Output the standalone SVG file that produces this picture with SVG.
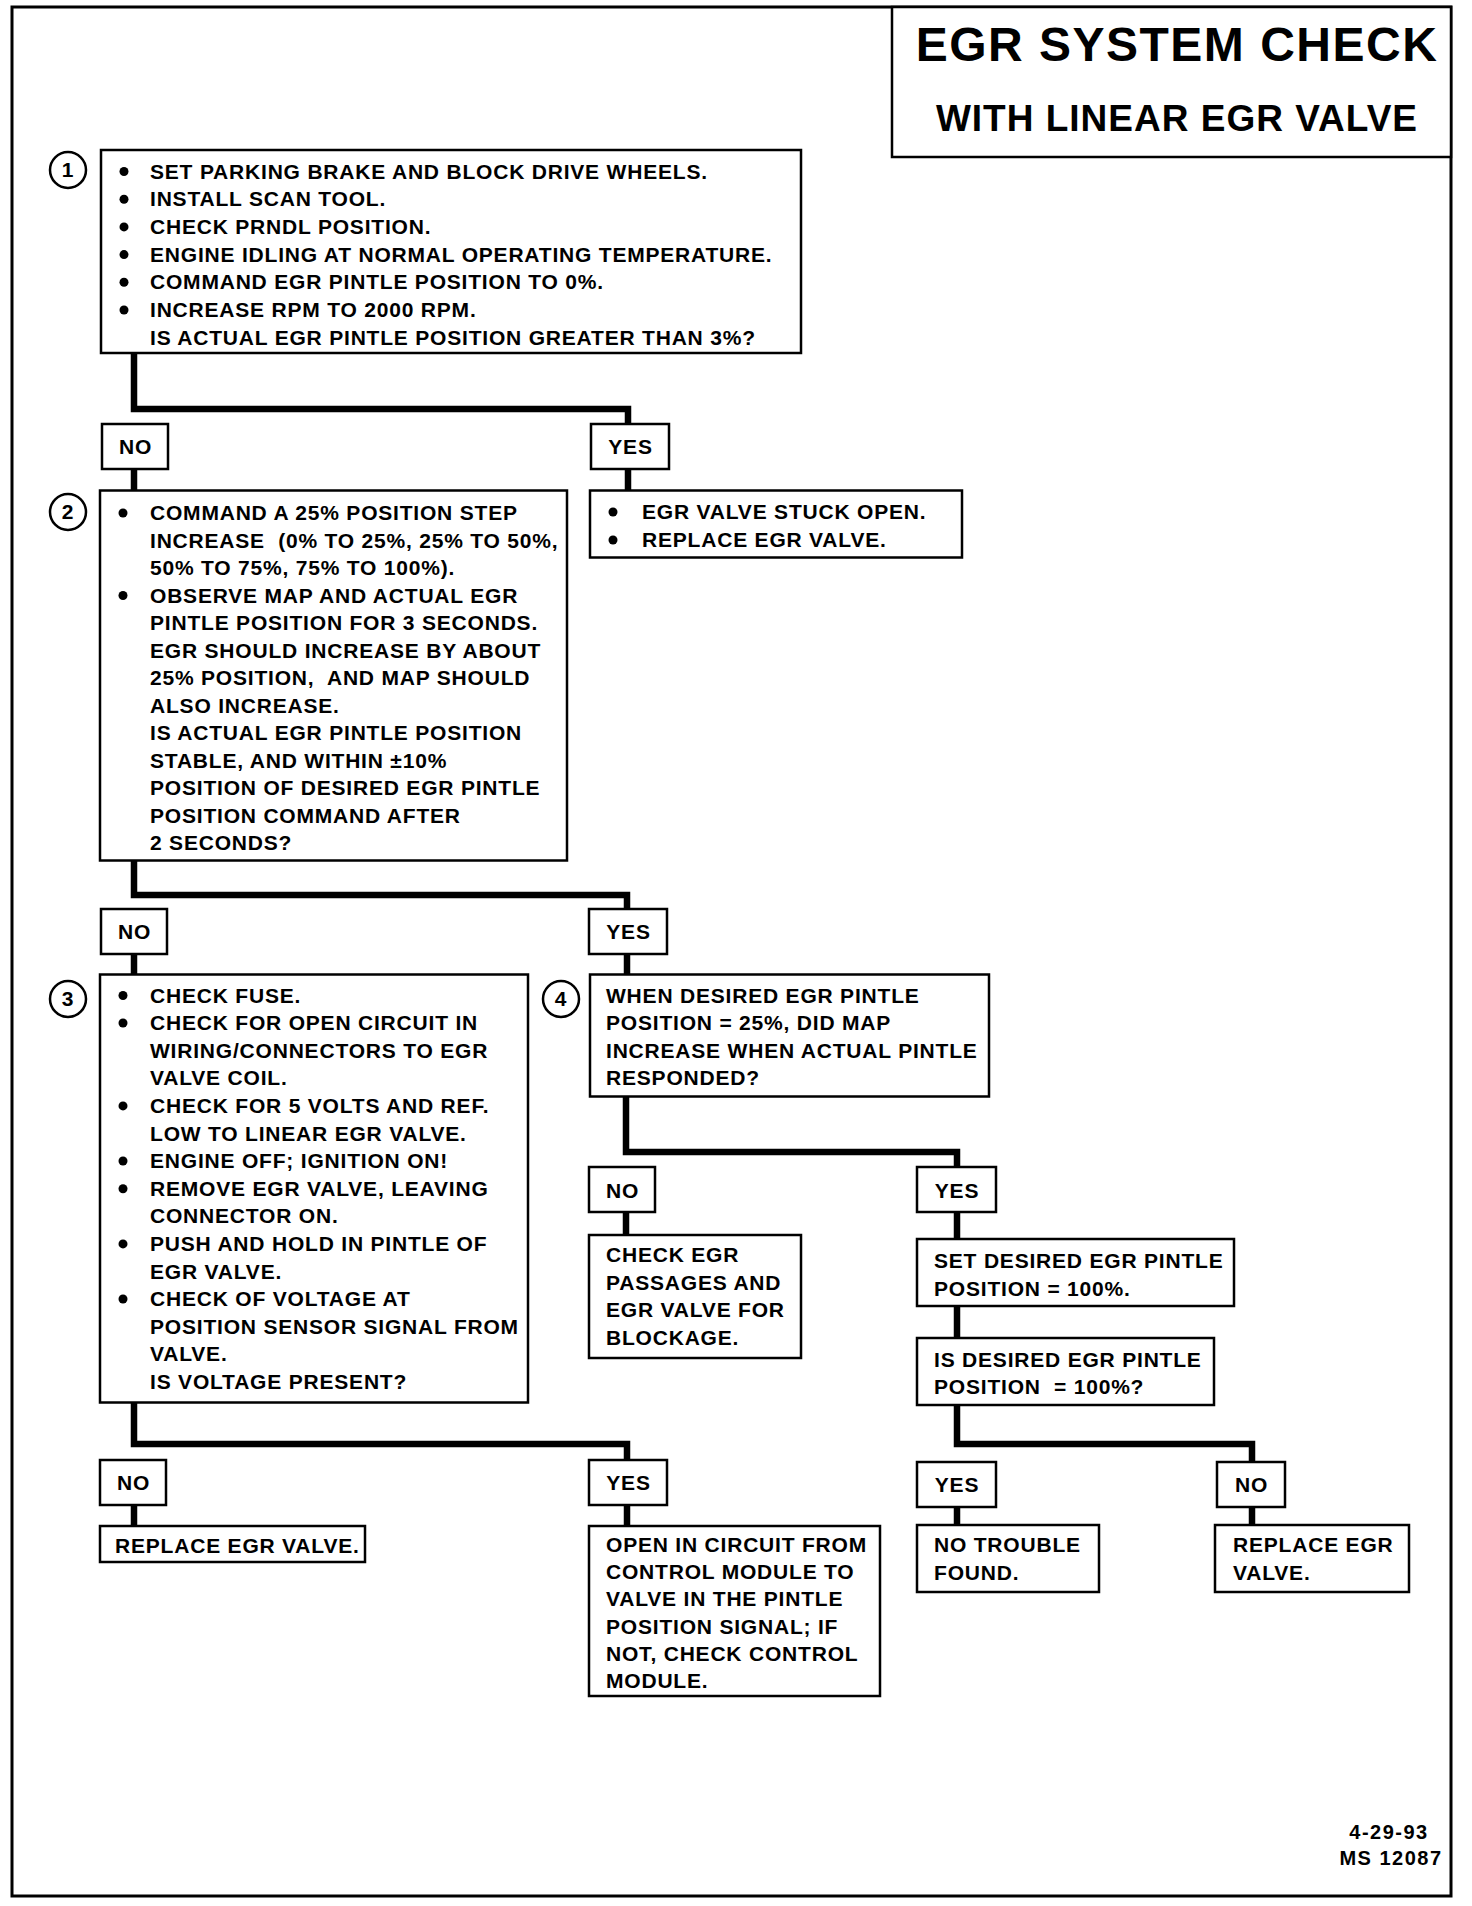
<svg xmlns="http://www.w3.org/2000/svg" width="1472" height="1906" viewBox="0 0 1472 1906">
<style>
text{font-family:"Liberation Sans",Arial,Helvetica,sans-serif;font-weight:bold;fill:#000;}
.t{font-size:21px;letter-spacing:0.8px;}
.c{text-anchor:middle;}
.box{fill:#fff;stroke:#000;stroke-width:2.5;}
.lbl{fill:#fff;stroke:#000;stroke-width:2.5;}
.num{fill:#fff;stroke:#000;stroke-width:2.5;}
.con{fill:none;stroke:#000;stroke-width:6.5;stroke-linejoin:miter;stroke-linecap:butt;}
.b{fill:#000;}
</style>
<rect x="0" y="0" width="1472" height="1906" fill="#fff"/>
<rect x="12" y="7" width="1439" height="1889" fill="none" stroke="#000" stroke-width="3"/>

<g id="connectors">
<path class="con" d="M134 353 V409 H628 V424"/>
<path class="con" d="M134 469 V490.5"/>
<path class="con" d="M628 469 V490.5"/>
<path class="con" d="M134 860.5 V895 H627 V909"/>
<path class="con" d="M134 954 V974.5"/>
<path class="con" d="M627 954 V974.5"/>
<path class="con" d="M626 1096.5 V1152 H957 V1167"/>
<path class="con" d="M626 1212 V1235"/>
<path class="con" d="M957 1212 V1239"/>
<path class="con" d="M957 1306 V1338"/>
<path class="con" d="M957 1405 V1444 H1252 V1462"/>
<path class="con" d="M957 1507 V1525"/>
<path class="con" d="M1252 1507 V1525"/>
<path class="con" d="M134 1402.5 V1444 H627 V1460"/>
<path class="con" d="M134 1505 V1526"/>
<path class="con" d="M627 1505 V1526"/>
</g>

<g id="title">
<rect x="892" y="7" width="559" height="150" fill="#fff" stroke="#000" stroke-width="2.5"/>
<text x="1177" y="61" class="c" style="font-size:48px;letter-spacing:1.5px">EGR SYSTEM CHECK</text>
<text x="1177" y="131" class="c" style="font-size:37px;letter-spacing:1px">WITH LINEAR EGR VALVE</text>
</g>

<g id="step1">
<circle class="num" cx="68" cy="170" r="18"/>
<text x="68" y="177" class="t c">1</text>
<rect class="box" x="101" y="150" width="700" height="203"/>
<circle class="b" cx="124" cy="171.5" r="4.5"/>
<circle class="b" cx="124" cy="199.2" r="4.5"/>
<circle class="b" cx="124" cy="226.9" r="4.5"/>
<circle class="b" cx="124" cy="254.6" r="4.5"/>
<circle class="b" cx="124" cy="282.3" r="4.5"/>
<circle class="b" cx="124" cy="310" r="4.5"/>
<text class="t" x="150" y="178.5">SET PARKING BRAKE AND BLOCK DRIVE WHEELS.</text>
<text class="t" x="150" y="206.2">INSTALL SCAN TOOL.</text>
<text class="t" x="150" y="233.9">CHECK PRNDL POSITION.</text>
<text class="t" x="150" y="261.6">ENGINE IDLING AT NORMAL OPERATING TEMPERATURE.</text>
<text class="t" x="150" y="289.3">COMMAND EGR PINTLE POSITION TO 0%.</text>
<text class="t" x="150" y="317">INCREASE RPM TO 2000 RPM.</text>
<text class="t" x="150" y="344.7">IS ACTUAL EGR PINTLE POSITION GREATER THAN 3%?</text>
</g>

<g id="no1">
<rect class="lbl" x="102" y="424" width="66" height="45"/>
<text class="t c" x="135.5" y="453.5">NO</text>
</g>
<g id="yes1">
<rect class="lbl" x="591" y="424" width="78" height="45"/>
<text class="t c" x="630.5" y="453.5">YES</text>
</g>

<g id="stuck-open">
<rect class="box" x="590" y="490.5" width="372" height="67"/>
<circle class="b" cx="613" cy="512" r="4.5"/>
<circle class="b" cx="613" cy="540" r="4.5"/>
<text class="t" x="642" y="519">EGR VALVE STUCK OPEN.</text>
<text class="t" x="642" y="547">REPLACE EGR VALVE.</text>
</g>

<g id="step2">
<circle class="num" cx="68" cy="512" r="18"/>
<text x="68" y="519" class="t c">2</text>
<rect class="box" x="100" y="490.5" width="467" height="370"/>
<circle class="b" cx="123" cy="513" r="4.5"/>
<circle class="b" cx="123" cy="595.5" r="4.5"/>
<text class="t" x="150" y="520">COMMAND A 25% POSITION STEP</text>
<text class="t" x="150" y="547.5" xml:space="preserve">INCREASE  (0% TO 25%, 25% TO 50%,</text>
<text class="t" x="150" y="575">50% TO 75%, 75% TO 100%).</text>
<text class="t" x="150" y="602.5">OBSERVE MAP AND ACTUAL EGR</text>
<text class="t" x="150" y="630">PINTLE POSITION FOR 3 SECONDS.</text>
<text class="t" x="150" y="657.5">EGR SHOULD INCREASE BY ABOUT</text>
<text class="t" x="150" y="685" xml:space="preserve">25% POSITION,  AND MAP SHOULD</text>
<text class="t" x="150" y="712.5">ALSO INCREASE.</text>
<text class="t" x="150" y="740">IS ACTUAL EGR PINTLE POSITION</text>
<text class="t" x="150" y="767.5">STABLE, AND WITHIN ±10%</text>
<text class="t" x="150" y="795">POSITION OF DESIRED EGR PINTLE</text>
<text class="t" x="150" y="822.5">POSITION COMMAND AFTER</text>
<text class="t" x="150" y="850">2 SECONDS?</text>
</g>

<g id="no2">
<rect class="lbl" x="101" y="909" width="66" height="45"/>
<text class="t c" x="134.5" y="938.5">NO</text>
</g>
<g id="yes2">
<rect class="lbl" x="589" y="909" width="78" height="45"/>
<text class="t c" x="628.5" y="938.5">YES</text>
</g>

<g id="step3">
<circle class="num" cx="68" cy="999" r="18"/>
<text x="68" y="1006" class="t c">3</text>
<rect class="box" x="100" y="974.5" width="428" height="428"/>
<circle class="b" cx="123" cy="995.5" r="4.5"/>
<circle class="b" cx="123" cy="1023" r="4.5"/>
<circle class="b" cx="123" cy="1105.9" r="4.5"/>
<circle class="b" cx="123" cy="1161" r="4.5"/>
<circle class="b" cx="123" cy="1188.7" r="4.5"/>
<circle class="b" cx="123" cy="1243.9" r="4.5"/>
<circle class="b" cx="123" cy="1299" r="4.5"/>
<text class="t" x="150" y="1002.5">CHECK FUSE.</text>
<text class="t" x="150" y="1030">CHECK FOR OPEN CIRCUIT IN</text>
<text class="t" x="150" y="1057.7">WIRING/CONNECTORS TO EGR</text>
<text class="t" x="150" y="1085.3">VALVE COIL.</text>
<text class="t" x="150" y="1112.9">CHECK FOR 5 VOLTS AND REF.</text>
<text class="t" x="150" y="1140.5">LOW TO LINEAR EGR VALVE.</text>
<text class="t" x="150" y="1168">ENGINE OFF; IGNITION ON!</text>
<text class="t" x="150" y="1195.7">REMOVE EGR VALVE, LEAVING</text>
<text class="t" x="150" y="1223.3">CONNECTOR ON.</text>
<text class="t" x="150" y="1250.9">PUSH AND HOLD IN PINTLE OF</text>
<text class="t" x="150" y="1278.5">EGR VALVE.</text>
<text class="t" x="150" y="1306">CHECK OF VOLTAGE AT</text>
<text class="t" x="150" y="1333.7">POSITION SENSOR SIGNAL FROM</text>
<text class="t" x="150" y="1361.3">VALVE.</text>
<text class="t" x="150" y="1389">IS VOLTAGE PRESENT?</text>
</g>

<g id="step4">
<circle class="num" cx="561" cy="999" r="18"/>
<text x="561" y="1006" class="t c">4</text>
<rect class="box" x="590" y="974.5" width="399" height="122"/>
<text class="t" x="606" y="1002.5">WHEN DESIRED EGR PINTLE</text>
<text class="t" x="606" y="1030">POSITION = 25%, DID MAP</text>
<text class="t" x="606" y="1057.7">INCREASE WHEN ACTUAL PINTLE</text>
<text class="t" x="606" y="1085.3">RESPONDED?</text>
</g>

<g id="no4">
<rect class="lbl" x="589" y="1167" width="66" height="45"/>
<text class="t c" x="622.5" y="1197.5">NO</text>
</g>
<g id="yes4">
<rect class="lbl" x="917" y="1167" width="79" height="45"/>
<text class="t c" x="957" y="1197.5">YES</text>
</g>

<g id="check-passages">
<rect class="box" x="589" y="1235" width="212" height="123"/>
<text class="t" x="606" y="1262">CHECK EGR</text>
<text class="t" x="606" y="1290">PASSAGES AND</text>
<text class="t" x="606" y="1317">EGR VALVE FOR</text>
<text class="t" x="606" y="1345">BLOCKAGE.</text>
</g>

<g id="set-desired">
<rect class="box" x="917" y="1239" width="317" height="67"/>
<text class="t" x="934" y="1268">SET DESIRED EGR PINTLE</text>
<text class="t" x="934" y="1296">POSITION = 100%.</text>
</g>

<g id="is-desired">
<rect class="box" x="917" y="1338" width="297" height="67"/>
<text class="t" x="934" y="1367">IS DESIRED EGR PINTLE</text>
<text class="t" x="934" y="1394" xml:space="preserve">POSITION  = 100%?</text>
</g>

<g id="yes5">
<rect class="lbl" x="917" y="1462" width="79" height="45"/>
<text class="t c" x="957" y="1492">YES</text>
</g>
<g id="no5">
<rect class="lbl" x="1217" y="1462" width="68" height="45"/>
<text class="t c" x="1251.5" y="1492">NO</text>
</g>

<g id="no-trouble">
<rect class="box" x="917" y="1525" width="182" height="67"/>
<text class="t" x="934" y="1552">NO TROUBLE</text>
<text class="t" x="934" y="1580">FOUND.</text>
</g>

<g id="replace-right">
<rect class="box" x="1215" y="1525" width="194" height="67"/>
<text class="t" x="1233" y="1552">REPLACE EGR</text>
<text class="t" x="1233" y="1580">VALVE.</text>
</g>

<g id="no6">
<rect class="lbl" x="100" y="1460" width="66" height="45"/>
<text class="t c" x="133.5" y="1490">NO</text>
</g>
<g id="yes6">
<rect class="lbl" x="589" y="1460" width="78" height="45"/>
<text class="t c" x="628.5" y="1490">YES</text>
</g>

<g id="replace-left">
<rect class="box" x="100" y="1526" width="265" height="36"/>
<text class="t" x="115" y="1553">REPLACE EGR VALVE.</text>
</g>

<g id="open-circuit">
<rect class="box" x="589" y="1526" width="291" height="170"/>
<text class="t" x="606" y="1552">OPEN IN CIRCUIT FROM</text>
<text class="t" x="606" y="1579.2">CONTROL MODULE TO</text>
<text class="t" x="606" y="1606.4">VALVE IN THE PINTLE</text>
<text class="t" x="606" y="1633.6">POSITION SIGNAL; IF</text>
<text class="t" x="606" y="1660.8">NOT, CHECK CONTROL</text>
<text class="t" x="606" y="1688">MODULE.</text>
</g>

<g id="footer">
<text class="c" x="1389" y="1839" style="font-size:20px;letter-spacing:1.5px">4-29-93</text>
<text class="c" x="1391" y="1865" style="font-size:20px;letter-spacing:1.5px">MS 12087</text>
</g>
</svg>
